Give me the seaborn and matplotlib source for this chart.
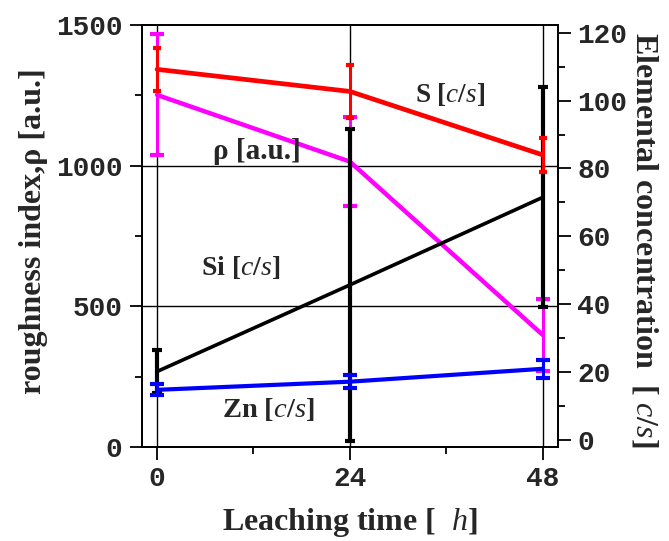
import numpy as np
import pandas as pd
import matplotlib
matplotlib.use("Agg")
import matplotlib.pyplot as plt
import seaborn as sns
from matplotlib.ticker import MultipleLocator

# ---- data ----
hours = [0, 24, 48]
rho = [1251, 1014, 398]          # roughness index [a.u.] (left axis)
rho_err = [215, 157, 128]
S = [109.2, 102.7, 84.0]         # [c/s] (right axis)
S_err = [6.3, 7.8, 5.0]
Si = [20.2, 45.7, 71.5]
Si_err = [6.2, 46.0, 32.4]
Zn = [14.8, 17.2, 21.0]
Zn_err = [1.6, 2.0, 2.7]

x_ticks = [0, 24, 48]
left_ticks = [0, 500, 1000, 1500]
right_ticks = [0, 20, 40, 60, 80, 100, 120]

sns.set_theme(style="white")
plt.rcParams['mathtext.fontset'] = 'custom'
plt.rcParams['mathtext.rm'] = 'Liberation Serif:bold'
plt.rcParams['mathtext.bf'] = 'Liberation Serif:bold'
plt.rcParams['mathtext.it'] = 'Liberation Serif:italic'
plt.rcParams['font.family'] = ['Liberation Serif', 'DejaVu Serif']

fig = plt.figure(figsize=(6.69, 5.41), dpi=100)
ax = fig.add_axes([0.212, 0.174, 0.622, 0.780])
ax2 = ax.twinx()

df_rho = pd.DataFrame({"t": hours, "v": rho})
df_S = pd.DataFrame({"t": hours, "v": S})
df_Si = pd.DataFrame({"t": hours, "v": Si})
df_Zn = pd.DataFrame({"t": hours, "v": Zn})

# grid (black lines)
for t in x_ticks:
    ax.axvline(t, color="black", lw=1.0, zorder=0)
for v in [500, 1000]:
    ax.axhline(v, color="black", lw=1.0, zorder=0)

# left axis: rho
sns.lineplot(data=df_rho, x="t", y="v", ax=ax, color="#ff00ff", lw=3.2, zorder=3)
ax.errorbar(hours, rho, yerr=rho_err, fmt="none", ecolor="#ff00ff", elinewidth=2.2,
            capsize=5, capthick=3, zorder=3)

# right axis
sns.lineplot(data=df_Si, x="t", y="v", ax=ax2, color="black", lw=2.6, zorder=3)
ax2.errorbar(hours, Si, yerr=Si_err, fmt="none", ecolor="black", elinewidth=3,
             capsize=3.5, capthick=3, zorder=3)
sns.lineplot(data=df_Zn, x="t", y="v", ax=ax2, color="#0000ff", lw=3.0, zorder=4)
ax2.errorbar(hours, Zn, yerr=Zn_err, fmt="none", ecolor="#0000ff", elinewidth=2.2,
             capsize=5, capthick=3, zorder=4)
sns.lineplot(data=df_S, x="t", y="v", ax=ax2, color="#ff0000", lw=3.4, zorder=5)
ax2.errorbar(hours, S, yerr=S_err, fmt="none", ecolor="#ff0000", elinewidth=2.2,
             capsize=3, capthick=3, zorder=5)

ax.set_xlim(-1.9, 49.9)
ax.set_ylim(0, 1500)
ax2.set_ylim(-2.0, 122.3)

ax.set_xticks(x_ticks)
ax.xaxis.set_minor_locator(MultipleLocator(12))
ax.set_yticks(left_ticks)
ax.yaxis.set_minor_locator(MultipleLocator(250))
ax2.set_yticks(right_ticks)
ax2.yaxis.set_minor_locator(MultipleLocator(10))

tickfont = dict(family="Liberation Mono", weight="bold", size=20)
ax.set_xticklabels([str(t) for t in x_ticks], **tickfont)
ax.set_yticklabels([str(t) for t in left_ticks], **tickfont)
ax2.set_yticklabels([str(t) for t in right_ticks], **tickfont)

for a in (ax, ax2):
    for sp in a.spines.values():
        sp.set_color("black")
        sp.set_linewidth(1.3)
    a.tick_params(which="major", direction="out", length=9, width=1.3, color="black", pad=5)
    a.tick_params(which="minor", direction="out", length=5, width=1.3, color="black")
ax.tick_params(axis="y", which="both", left=True, right=False)
ax.tick_params(axis="x", which="both", bottom=True)
ax2.tick_params(axis="y", which="both", right=True, left=False)
ax.grid(False)
ax2.grid(False)

ax.set_xlabel(r"Leaching time [  $\it{h}$]", fontsize=23, fontweight="bold", labelpad=10)
ax.set_ylabel("roughness index,ρ [a.u.]", fontsize=23, fontweight="bold")
ax.yaxis.set_label_coords(-0.225, 0.512)
ax2.set_ylabel(r"Elemental concentration  [ $\it{c/s}$]", fontsize=23, fontweight="bold",
               rotation=-90)
ax2.yaxis.set_label_coords(1.245, 0.49)

ax2.text(32.1, 1251 / 1500 * 124.3 - 2.0, r"S [$\it{c/s}$]", fontsize=19.5, fontweight="bold",
         ha="left", va="center", zorder=10)
ax.text(7.0, 1049, "ρ [a.u.]", fontsize=21, fontweight="bold", ha="left", va="center", zorder=10)
ax.text(5.5, 636, r"Si [$\it{c/s}$]", fontsize=20, fontweight="bold", ha="left", va="center", zorder=10)
ax2.text(8.1, 8.9, r"Zn [$\it{c/s}$]", fontsize=20.5, fontweight="bold", ha="left", va="center", zorder=10)

fig.savefig("out.png", dpi=100)
